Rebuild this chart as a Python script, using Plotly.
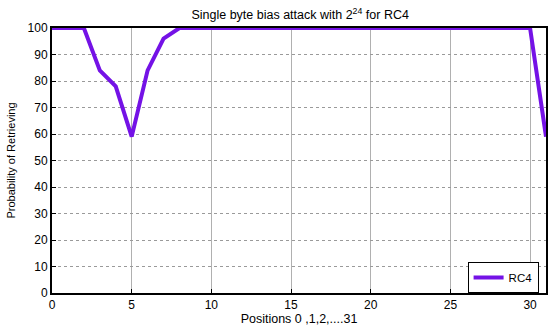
import plotly.graph_objects as go

positions = list(range(32))
rc4_prob = [100, 100, 100, 84, 78, 59, 84, 96, 100, 100,
            100, 100, 100, 100, 100, 100, 100, 100, 100, 100,
            100, 100, 100, 100, 100, 100, 100, 100, 100, 100,
            100, 59]
x_ticks = [0, 5, 10, 15, 20, 25, 30]
y_ticks = list(range(0, 101, 10))

fig = go.Figure()
fig.add_trace(go.Scatter(
    x=positions, y=rc4_prob, mode="lines", name="RC4",
    line=dict(color="#7412e6", width=4),
))

font = dict(family="Liberation Sans, Arial, sans-serif", size=12, color="#000")
fig.update_layout(
    width=560, height=327,
    margin=dict(l=52, r=14, t=28, b=34),
    paper_bgcolor="white", plot_bgcolor="white",
    font=font,
    title=dict(text="Single byte bias attack with 2<sup>24</sup> for RC4",
               x=0.536, xanchor="center", y=0.955, yanchor="middle",
               font=dict(size=12.5)),
    showlegend=True,
    legend=dict(x=0.985, y=0.0, xanchor="right", yanchor="bottom",
                bgcolor="white", bordercolor="#000", borderwidth=1,
                font=dict(size=11.5), tracegroupgap=0),
)
fig.update_xaxes(
    range=[0, 31], tickvals=x_ticks, showgrid=True,
    gridcolor="#b0b0b0", gridwidth=1,
    showline=True, linecolor="#000", linewidth=2, mirror=True,
    ticks="inside", ticklen=4, tickcolor="#000",
    zeroline=False, automargin=False,
    title=dict(text="Positions 0 ,1,2,....31", standoff=3, font=dict(size=12.5)),
)
fig.update_yaxes(
    range=[0, 100], tickvals=y_ticks, showgrid=True,
    gridcolor="#9a9a9a", gridwidth=1, griddash="dot",
    showline=True, linecolor="#000", linewidth=2, mirror=True,
    ticks="inside", ticklen=4, tickcolor="#000",
    zeroline=False, automargin=False,
    title=dict(text="Probability of Retrieving", standoff=10, font=dict(size=11)),
)

fig.write_html("out.html")
